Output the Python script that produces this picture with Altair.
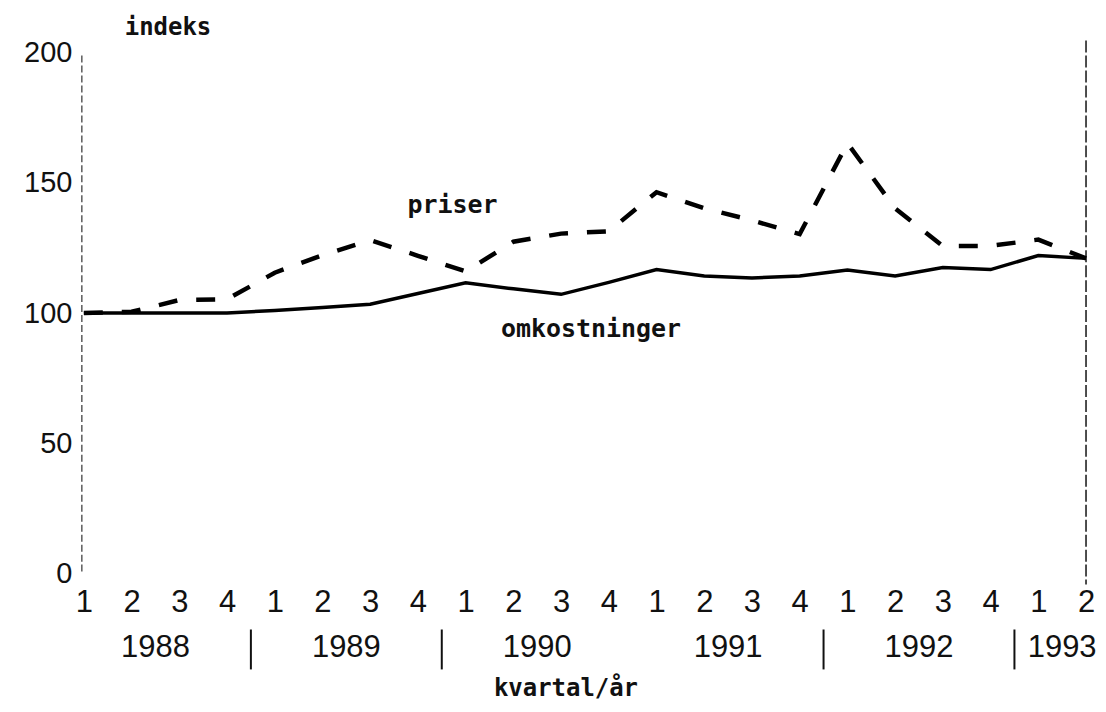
import altair as alt
import pandas as pd

# ---- data ----
quarter_labels = ["1", "2", "3", "4", "1", "2", "3", "4", "1", "2", "3", "4",
                  "1", "2", "3", "4", "1", "2", "3", "4", "1", "2"]
quarter_years = [1988] * 4 + [1989] * 4 + [1990] * 4 + [1991] * 4 + [1992] * 4 + [1993] * 2
priser = [100, 100.5, 105, 105.3, 115.5, 122.2, 128, 122, 116, 127.4, 130.5, 131.4,
          146.4, 140.2, 135.6, 130.3, 165.2, 140.2, 125.7, 125.8, 128.2, 121]
omkostninger = [100, 100, 100, 100, 101, 102.1, 103.4, 107.5, 111.6, 109.3, 107.2, 111.8,
                116.7, 114.2, 113.5, 114.2, 116.5, 114.2, 117.5, 116.7, 122.1, 121]
years = [1988, 1989, 1990, 1991, 1992, 1993]
separated_years = [1989, 1990, 1992, 1993]   # a "|" is printed before these year labels

n = len(quarter_labels)
idx = list(range(n))
df = pd.DataFrame({
    "idx": idx * 2,
    "value": priser + omkostninger,
    "series": ["priser"] * n + ["omkostninger"] * n,
})

year_df = pd.DataFrame({
    "year": [str(y) for y in years],
    "idx": [sum(i for i, q in zip(idx, quarter_years) if q == y) /
            sum(1 for q in quarter_years if q == y) for y in years],
})
sep_df = pd.DataFrame({
    "idx": [min(i for i, q in zip(idx, quarter_years) if q == y) - 0.5 for y in separated_years]
})
label_df = pd.DataFrame({
    "text": ["priser", "omkostninger"],
    "idx": [6.78, 8.74],
    "value": [138.3, 90.8],
})

NUM_FONT = "Liberation Sans"
MONO = "DejaVu Sans Mono"

label_js = "[" + ",".join("'" + s + "'" for s in quarter_labels) + "]"

x_enc = alt.X("idx:Q",
              scale=alt.Scale(domain=[0, n - 1], nice=False, zero=False),
              axis=alt.Axis(values=idx, labelExpr=label_js + "[datum.value]",
                            title=None, domain=False, ticks=False, grid=False,
                            labelFont=NUM_FONT, labelFontSize=31, labelColor="#111",
                            labelPadding=14, labelAngle=0, labelFlush=False,
                            labelOverlap=False))
y_enc = alt.Y("value:Q",
              scale=alt.Scale(domain=[0, 200], nice=False, zero=True),
              axis=alt.Axis(values=[0, 50, 100, 150, 200], title=None, domain=False,
                            ticks=False, grid=False, labelFont=NUM_FONT,
                            labelFontSize=29, labelColor="#111", labelPadding=12))

base = alt.Chart(df)

solid = base.transform_filter(alt.datum.series == "omkostninger").mark_line(
    color="#000", strokeWidth=3.5).encode(x=x_enc, y=y_enc)
dashed = base.transform_filter(alt.datum.series == "priser").mark_line(
    color="#000", strokeWidth=4.5, strokeDash=[19, 19]).encode(x=x_enc, y=y_enc)

series_labels = alt.Chart(label_df).mark_text(
    align="left", baseline="alphabetic", font=MONO, fontWeight="bold",
    fontSize=25, color="#111").encode(x=x_enc, y=y_enc, text="text:N")

year_labels = alt.Chart(year_df).mark_text(
    align="center", baseline="middle", font=NUM_FONT, fontSize=31,
    color="#111").encode(x=x_enc, y=alt.value(597), text="year:N")

separators = alt.Chart(sep_df).mark_rule(color="#111", strokeWidth=2).encode(
    x=x_enc, y=alt.value(578), y2=alt.value(618))

one = alt.Data(values=[{"a": 1}])
left_line = alt.Chart(one).mark_rule(color="#333", strokeWidth=1.2,
                                     strokeDash=[7, 3]).encode(
    x=alt.value(-2), y=alt.value(3), y2=alt.value(523))
right_line = alt.Chart(one).mark_rule(color="#222", strokeWidth=1.6,
                                      strokeDash=[12, 3]).encode(
    x=alt.value(1004), y=alt.value(-12), y2=alt.value(533))

indeks = alt.Chart(one).mark_text(
    text="indeks", align="left", baseline="middle", font=MONO, fontWeight="bold",
    fontSize=24, color="#111").encode(x=alt.value(41), y=alt.value(-25))
xtitle = alt.Chart(one).mark_text(
    text="kvartal/år", align="center", baseline="middle", font=MONO, fontWeight="bold",
    fontSize=24, color="#111").encode(x=alt.value(483), y=alt.value(638))

chart = alt.layer(
    left_line, right_line, solid, dashed, series_labels, year_labels, separators,
    indeks, xtitle
).properties(
    width=1004, height=522,
    autosize=alt.AutoSizeParams(type="none"),
    padding={"left": 76, "top": 44, "right": 12, "bottom": 134},
).configure(background="white").configure_view(stroke=None)

chart.save("out.html", embed_options={"renderer": "svg", "actions": False})
